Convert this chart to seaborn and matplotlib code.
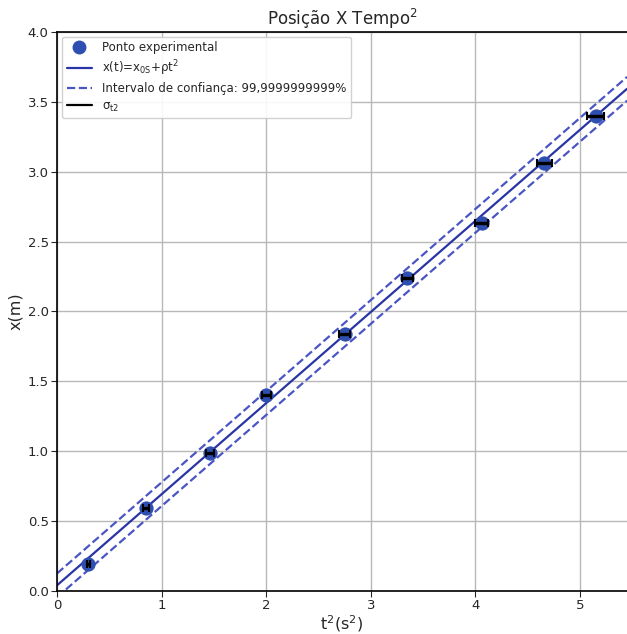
import numpy as np
import pandas as pd
import matplotlib
matplotlib.use("Agg")
import matplotlib.pyplot as plt
from matplotlib.lines import Line2D
import seaborn as sns

t2 = [0.30, 0.85, 1.46, 2.00, 2.75, 3.35, 4.06, 4.66, 5.15]
x_m = [0.19, 0.59, 0.99, 1.40, 1.84, 2.24, 2.63, 3.06, 3.40]
sigma_t2 = [0.015, 0.03, 0.04, 0.045, 0.05, 0.055, 0.065, 0.07, 0.08]

# parametros do ajuste e da banda de confianca
x0s = 0.04
rho = 0.652
banda = 0.085
t_lim = [0.0, 5.45]

sns.set_style("whitegrid", {"grid.color": "#b0b0b0", "axes.edgecolor": "black"})
plt.rcParams["mathtext.default"] = "regular"
plt.rcParams["font.family"] = ["DejaVu Sans"]

fig = plt.figure(figsize=(6.27, 6.34), dpi=100)
ax = fig.add_axes([0.091, 0.068, 0.909, 0.8815])

df = pd.DataFrame({"t2": t2, "x": x_m})
tt = np.array(t_lim)
fit = pd.DataFrame({"t2": tt, "x": x0s + rho * tt})
sup = pd.DataFrame({"t2": tt, "x": x0s + banda + rho * tt})
inf = pd.DataFrame({"t2": tt, "x": x0s - banda + rho * tt})

sns.scatterplot(data=df, x="t2", y="x", ax=ax, s=90, color="#2f4fb0",
                edgecolor="#2f4fb0", zorder=3, legend=False)
sns.lineplot(data=fit, x="t2", y="x", ax=ax, color="#2a35a5", lw=1.6, zorder=2)
sns.lineplot(data=sup, x="t2", y="x", ax=ax, color="#4a55c5", lw=1.6,
             linestyle="--", zorder=2)
sns.lineplot(data=inf, x="t2", y="x", ax=ax, color="#4a55c5", lw=1.6,
             linestyle="--", zorder=2)
ax.errorbar(t2, x_m, xerr=sigma_t2, fmt="none", ecolor="black", elinewidth=2.4,
            capsize=3, capthick=1.5, zorder=4)

ax.set_xlim(t_lim)
ax.set_ylim(0, 4.0)
ax.set_xticks([0, 1, 2, 3, 4, 5])
ax.set_yticks(np.arange(0, 4.01, 0.5))
ax.grid(True, color="#b8b8b8", lw=1)
ax.tick_params(axis="both", which="both", length=4, direction="out", pad=2,
               left=True, bottom=True, labelsize=9.5)
for s in ax.spines.values():
    s.set_color("black")
    s.set_linewidth(1.2)
ax.spines["right"].set_visible(False)

ax.set_xlabel(r"t$^2$(s$^2$)", fontsize=11.5, labelpad=1)
ax.set_ylabel("x(m)", fontsize=11.5, labelpad=3)
ax.set_title(r"Posição X Tempo$^2$", fontsize=12, pad=5)

handles = [
    Line2D([], [], marker="o", ls="none", color="#2f4fb0", markersize=9),
    Line2D([], [], color="#2a35a5", lw=1.6),
    Line2D([], [], color="#4a55c5", lw=1.6, ls="--"),
    Line2D([], [], color="black", lw=1.6),
]
labels = ["Ponto experimental", r"x(t)=x$_{0S}$+$\rho$t$^2$",
          "Intervalo de confiança: 99,9999999999%", r"$\sigma_{t2}$"]
ax.legend(handles, labels, loc="upper left", fontsize=8.5, frameon=True,
          framealpha=0.9, edgecolor="#cccccc", handlelength=2.2,
          borderaxespad=0.4, labelspacing=0.35)

fig.savefig("out.png", dpi=100)
